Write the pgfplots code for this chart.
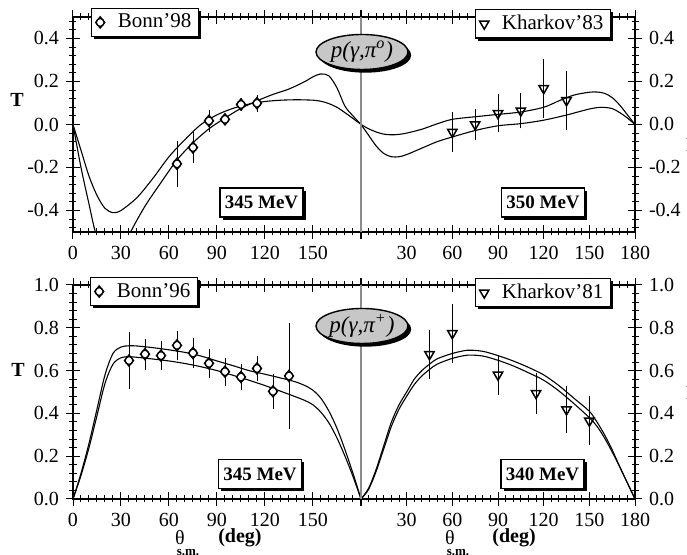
\documentclass[border=0pt]{standalone}
\usepackage{fontspec}
\setmainfont{Liberation Serif}
\usepackage{pgfplots}
\pgfplotsset{compat=1.18}
\usetikzlibrary{shadows,shapes.geometric}

% circle with a diamond through it (Bonn data)
\pgfdeclareplotmark{dcirc}{%
  \pgfpathcircle{\pgfpointorigin}{0.85\pgfplotmarksize}%
  \pgfusepathqfillstroke
  \pgfpathmoveto{\pgfqpoint{\pgfplotmarksize}{0pt}}%
  \pgfpathlineto{\pgfqpoint{0pt}{1.25\pgfplotmarksize}}%
  \pgfpathlineto{\pgfqpoint{-\pgfplotmarksize}{0pt}}%
  \pgfpathlineto{\pgfqpoint{0pt}{-1.25\pgfplotmarksize}}%
  \pgfpathclose
  \pgfusepathqstroke}

\pgfplotsset{
  panel/.style={
    scale only axis, anchor=south west,
    xmin=0, xmax=180,
    axis line style={line width=0.6pt},
    every tick/.style={black, line width=0.5pt},
    tick align=center, major tick length=7pt, minor tick length=3.5pt,
    xtick={0,30,...,180}, minor x tick num=5,
    xtick pos=both, xticklabel pos=lower,
    minor y tick num=4,
    tick label style={font=\fontsize{10}{11}\selectfont},
    /pgf/number format/assume math mode=true,
    yticklabel style={/pgf/number format/.cd, fixed, fixed zerofill, precision=1},
    legend style={draw=black, line width=0.6pt, fill=white,
      drop shadow={shadow xshift=1.3pt, shadow yshift=-1.3pt, fill=black, opacity=1},
      font=\fontsize{10.5}{11}\selectfont, inner xsep=2pt, inner ysep=1.2pt,
      nodes={inner sep=1.5pt}},
    legend image code/.code={\draw[#1] plot coordinates {(0pt,0pt)};},
  },
  leftpanel/.style={panel, ytick pos=left, yticklabel pos=left,
    xticklabels={0,30,60,90,120,150,{}}},
  rightpanel/.style={panel, ytick pos=right, yticklabel pos=right,
    xticklabels={{},30,60,90,120,150,180}},
  theory/.style={black, line width=0.55pt, smooth, no marks, forget plot},
  bonn/.style={only marks, mark=dcirc, mark size=2.3pt,
    mark options={fill=white, line width=0.6pt},
    error bars/.cd, y dir=both, y explicit,
    error bar style={line width=0.45pt},
    error mark options={mark size=1.5pt, line width=0.45pt}},
  kharkov/.style={only marks, mark=triangle, mark size=2.7pt,
    mark options={fill=white, line width=0.75pt, rotate=180},
    error bars/.cd, y dir=both, y explicit,
    error bar style={line width=0.45pt},
    error mark options={mark size=1.5pt, line width=0.45pt}},
}

\tikzset{
  ebox/.style={draw, line width=0.6pt, fill=white, minimum width=41.5pt,
    minimum height=14.5pt, inner sep=0pt,
    font=\fontsize{9.5}{11}\selectfont\bfseries,
    drop shadow={shadow xshift=1.3pt, shadow yshift=-1.3pt, fill=black, opacity=1}},
  react/.style={ellipse, draw, line width=0.7pt, fill=black!22,
    minimum width=46pt, minimum height=17.5pt, inner sep=0pt,
    font=\fontsize{11.5}{12}\selectfont\itshape,
    drop shadow={shadow xshift=1.6pt, shadow yshift=-1.6pt, fill=black, opacity=1}},
  xlab/.style={inner sep=0pt, font=\fontsize{10}{11}\selectfont},
  sub/.style={inner sep=0pt, font=\fontsize{6.5}{7}\selectfont\bfseries},
}

\begin{document}
\begin{tikzpicture}

% ---------------- top row: pi0 ----------------
\begin{axis}[leftpanel, at={(36.5pt,161.5pt)}, width=144pt, height=107.5pt,
  ymin=-0.5, ymax=0.5, ytick={-0.6,-0.4,-0.2,0,0.2,0.4,0.6},
  legend style={at={(0.0625,1.042)}, anchor=north west}]
\addplot[theory] coordinates {
  (0,0) (5,-0.12) (10,-0.24) (15,-0.33) (20,-0.39) (25,-0.41) (30,-0.40)
  (40,-0.34) (50,-0.25) (60,-0.15) (70,-0.07) (80,0.0) (90,0.045)
  (100,0.075) (110,0.095) (120,0.107) (130,0.113) (140,0.115) (150,0.113)
  (155,0.108) (160,0.097) (165,0.08) (170,0.055) (175,0.028) (180,0.0)};
\addplot[theory] coordinates {
  (0,0) (5,-0.2) (10,-0.37) (14,-0.5) (20,-0.62) (25,-0.66) (30,-0.6)
  (36,-0.5) (45,-0.38) (55,-0.27) (65,-0.165) (75,-0.085) (85,-0.02)
  (95,0.03) (105,0.075) (115,0.11) (125,0.14) (135,0.165) (145,0.2)
  (150,0.222) (155,0.235) (160,0.226) (165,0.17) (170,0.085) (175,0.04) (180,0.0)};
\addplot[bonn] coordinates {
  (65,-0.183) +- (0,0.093)
  (75,-0.107) +- (0,0.057)
  (85,0.017)  +- (0,0.037)
  (95,0.024)  +- (0,0.012)
  (105,0.093) +- (0,0.015)
  (115,0.099) +- (0,0.025)};
\addlegendentry{\hspace{5pt}Bonn'98\hspace{4pt}}
\end{axis}

\begin{axis}[rightpanel, at={(180.5pt,161.5pt)}, width=137pt, height=107.5pt,
  ymin=-0.5, ymax=0.5, ytick={-0.6,-0.4,-0.2,0,0.2,0.4,0.6},
  legend style={at={(0.416,1.037)}, anchor=north west}]
\addplot[theory] coordinates {
  (0,0) (5,-0.02) (10,-0.035) (15,-0.045) (20,-0.048) (25,-0.046) (30,-0.04)
  (40,-0.022) (50,0.003) (60,0.024) (75,0.036) (90,0.047) (105,0.058)
  (120,0.08) (130,0.11) (140,0.137) (150,0.15) (155,0.151) (160,0.145)
  (165,0.125) (170,0.09) (175,0.045) (180,0.0)};
\addplot[theory] coordinates {
  (0,0) (5,-0.05) (10,-0.1) (15,-0.135) (20,-0.15) (25,-0.15) (30,-0.14)
  (40,-0.11) (50,-0.08) (60,-0.058) (75,-0.028) (90,-0.006) (105,0.004)
  (120,0.02) (135,0.044) (150,0.072) (158,0.08) (165,0.074) (170,0.055)
  (175,0.03) (180,0.0)};
\addplot[kharkov] coordinates {
  (60,-0.035) +- (0,0.077)
  (75,0.0)    +- (0,0.058)
  (90,0.052)  +- (0,0.075)
  (105,0.064) +- (0,0.068)
  (120,0.168) +- (0,0.122)
  (135,0.112) +- (0,0.122)};
\addlegendentry{\hspace{5pt}Kharkov'83\hspace{4pt}}
\end{axis}

% ---------------- bottom row: pi+ ----------------
\begin{axis}[leftpanel, at={(36.5pt,28pt)}, width=144pt, height=107pt,
  ymin=0, ymax=1, ytick={0,0.2,0.4,0.6,0.8,1.0},
  legend style={at={(0.059,1.037)}, anchor=north west}]
\addplot[theory] coordinates {
  (0,0) (5,0.12) (10,0.26) (15,0.42) (20,0.58) (25,0.68) (30,0.71)
  (35,0.716) (40,0.715) (50,0.707) (60,0.697) (70,0.685) (80,0.668)
  (90,0.645) (100,0.623) (110,0.6) (120,0.583) (130,0.565) (135,0.556)
  (140,0.545) (145,0.53) (150,0.508) (155,0.47) (160,0.41) (165,0.33)
  (170,0.23) (175,0.12) (180,0.0)};
\addplot[theory] coordinates {
  (0,0) (5,0.11) (10,0.24) (15,0.39) (20,0.54) (25,0.63) (30,0.66)
  (35,0.665) (40,0.662) (50,0.654) (60,0.645) (70,0.633) (80,0.618)
  (90,0.6) (100,0.578) (110,0.555) (120,0.53) (130,0.503) (140,0.475)
  (145,0.46) (150,0.44) (155,0.405) (160,0.355) (165,0.285) (170,0.2)
  (175,0.105) (180,0.0)};
\addplot[bonn] coordinates {
  (35,0.647)  +- (0,0.119)
  (45,0.677)  +- (0,0.058)
  (55,0.67)   +- (0,0.055)
  (65,0.718)  +- (0,0.053)
  (75,0.682)  +- (0,0.056)
  (85,0.634)  +- (0,0.054)
  (95,0.595)  +- (0,0.051)
  (105,0.57)  +- (0,0.045)
  (115,0.61)  +- (0,0.045)
  (125,0.503) +- (0,0.068)
  (135,0.575) +- (0,0.233)};
\addlegendentry{\hspace{5pt}Bonn'96\hspace{4pt}}
\end{axis}

\begin{axis}[rightpanel, at={(180.5pt,28pt)}, width=137pt, height=107pt,
  ymin=0, ymax=1, ytick={0,0.2,0.4,0.6,0.8,1.0},
  legend style={at={(0.416,1.033)}, anchor=north west}]
\addplot[theory] coordinates {
  (0,0) (5,0.05) (10,0.14) (15,0.25) (20,0.36) (25,0.44) (30,0.5)
  (35,0.56) (40,0.6) (45,0.63) (50,0.655) (60,0.68) (70,0.695) (80,0.69)
  (90,0.67) (100,0.645) (110,0.615) (120,0.58) (130,0.53) (140,0.47)
  (150,0.41) (155,0.36) (160,0.3) (165,0.23) (170,0.15) (175,0.075) (180,0.0)};
\addplot[theory] coordinates {
  (0,0) (5,0.045) (10,0.13) (15,0.235) (20,0.34) (25,0.42) (30,0.48)
  (35,0.535) (40,0.575) (45,0.605) (50,0.63) (60,0.657) (70,0.672)
  (80,0.668) (90,0.648) (100,0.622) (110,0.59) (120,0.555) (130,0.505)
  (140,0.445) (150,0.38) (155,0.34) (160,0.285) (165,0.22) (170,0.15)
  (175,0.075) (180,0.0)};
\addplot[kharkov] coordinates {
  (45,0.676)  +- (0,0.1)
  (60,0.774)  +- (0,0.125)
  (90,0.58)   +- (0,0.078)
  (115,0.494) +- (0,0.083)
  (135,0.418) +- (0,0.095)
  (150,0.365) +- (0,0.1)};
\addlegendentry{\hspace{5pt}Kharkov'81\hspace{4pt}}
\end{axis}

% middle separators
\draw[black!45, line width=1pt] (180.5pt,161.5pt) -- (180.5pt,269pt);
\draw[black!45, line width=1pt] (180.5pt,28pt) -- (180.5pt,135pt);

% reaction labels
\node[react] at (181pt,251.5pt) {p(γ,π\textsuperscript{o})};
\node[react] at (181pt,114.5pt) {p(γ,π\textsuperscript{+})};

% energy boxes
\node[ebox] at (130.75pt,176.25pt) {345 MeV};
\node[ebox] at (271.5pt,176.25pt) {350 MeV};
\node[ebox] at (130pt,40.5pt) {345 MeV};
\node[ebox] at (271.25pt,40.5pt) {340 MeV};

% axis titles
\node[font=\fontsize{10}{11}\selectfont\bfseries] at (8.5pt,227.5pt) {T};
\node[font=\fontsize{10}{11}\selectfont\bfseries] at (9pt,92.5pt) {T};
\node[anchor=west, font=\fontsize{10}{11}\selectfont\bfseries] at (339.5pt,205pt) {P};
\node[anchor=west, font=\fontsize{10}{11}\selectfont\bfseries] at (339.5pt,81pt) {P};

\node[xlab] at (90pt,8.5pt) {θ};
\node[sub] at (94pt,1pt) {s.m.};
\node[xlab, font=\fontsize{10}{11}\selectfont\bfseries] at (120pt,8.5pt) {(deg)};
\node[xlab] at (225pt,8.5pt) {θ};
\node[sub] at (229pt,1pt) {s.m.};
\node[xlab, font=\fontsize{10}{11}\selectfont\bfseries] at (257pt,8.5pt) {(deg)};

\pgfresetboundingbox
\path (0pt,0pt) rectangle (343.5pt,277.5pt);
\end{tikzpicture}
\end{document}
